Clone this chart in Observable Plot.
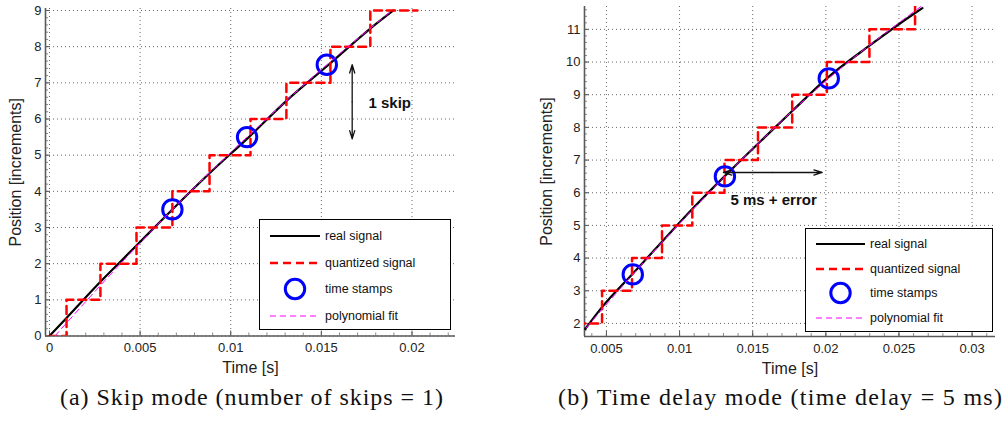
<!DOCTYPE html>
<html>
<head>
<meta charset="utf-8">
<script src="https://cdn.jsdelivr.net/npm/d3@7"></script>
<script src="https://cdn.jsdelivr.net/npm/@observablehq/plot@0.6"></script>
<style>
  html, body { margin: 0; padding: 0; background: #fff; }
  #fig { position: relative; width: 1007px; height: 428px; overflow: hidden;
         font-family: "Liberation Sans", Arial, Helvetica, sans-serif; }
  .panel { position: absolute; top: 0; }
  .legend { position: absolute; box-sizing: border-box; border: 1px solid #000; background: #fff; }
  .legend .row { position: absolute; left: 0; right: 0; height: 20px; }
  .legend svg { position: absolute; left: 0; top: 0; overflow: visible; }
  .legend span { position: absolute; font-size: 12.5px; color: #111; line-height: 20px; white-space: nowrap; }
  #captions { position: absolute; left: 0; top: 0; }
</style>
</head>
<body>
<div id="fig"></div>
<script>
// ---------- (a) Skip mode ----------
const skipRealT   = [0, 0.00094, 0.00281, 0.0048, 0.00678, 0.00883, 0.0110, 0.01307, 0.0154, 0.0177, 0.01897];
const skipRealP   = [0, 0.5, 1.5, 2.5, 3.5, 4.5, 5.5, 6.5, 7.5, 8.5, 9];
const skipQuantT  = [0, 0.00094, 0.00281, 0.0048, 0.00678, 0.00883, 0.01109, 0.01307, 0.0155, 0.0177, 0.0203];
const skipQuantP  = [0, 1, 2, 3, 4, 5, 6, 7, 8, 9, 9];
const skipStampT  = [0.00678, 0.0109, 0.0153];
const skipStampP  = [3.5, 5.5, 7.5];
const skipFitT    = [0.0003, 0.0034, 0.00678, 0.0109, 0.0153, 0.0189];
const skipFitP    = [0, 1.72, 3.5, 5.5, 7.5, 9];
const skipXTicks  = [0, 0.005, 0.01, 0.015, 0.02];
const skipYTicks  = [0, 1, 2, 3, 4, 5, 6, 7, 8, 9];
const skipXDomain = [-0.00022, 0.0224];
const skipYDomain = [0, 9.055];
const skipArrowT  = 0.0167;
const skipArrowP  = [5.45, 7.5];
const skipNote    = {t: 0.0176, p: 6.43, text: "1 skip"};

// ---------- (b) Time delay mode ----------
const delayRealT  = [0.00355, 0.0047, 0.00675, 0.0088, 0.01087, 0.01307, 0.01536, 0.0177, 0.02007, 0.02298, 0.0261, 0.0266];
const delayRealP  = [1.83, 2.5, 3.5, 4.5, 5.5, 6.5, 7.5, 8.5, 9.5, 10.5, 11.5, 11.65];
const delayQuantT = [0.0030, 0.0047, 0.00675, 0.0088, 0.01087, 0.01307, 0.01536, 0.0177, 0.02007, 0.02298, 0.0261];
const delayQuantP = [2, 3, 4, 5, 6, 7, 8, 9, 10, 11, 12];
const delayStampT = [0.0068, 0.0131, 0.0202];
const delayStampP = [3.5, 6.5, 9.5];
const delayFitT   = [0.0036, 0.0068, 0.0131, 0.0202, 0.0265];
const delayFitP   = [1.86, 3.5, 6.5, 9.5, 11.7];
const delayXTicks = [0.005, 0.01, 0.015, 0.02, 0.025, 0.03];
const delayYTicks = [2, 3, 4, 5, 6, 7, 8, 9, 10, 11];
const delayXDomain = [0.0035, 0.0316];
const delayYDomain = [1.6, 11.7];
const delayArrowP = 6.62;
const delayArrowT = [0.0130, 0.01975];
const delayNote   = {t: 0.01348, p: 5.76, text: "5 ms + error"};

// ---------- shared labels and styles ----------
const xLabel = "Time [s]";
const yLabel = "Position [increments]";
const legendNames = ["real signal", "quantized signal", "time stamps", "polynomial fit"];
const captions = ["(a) Skip mode (number of skips = 1)", "(b) Time delay mode (time delay = 5 ms)"];

const styleReal  = {stroke: "#000", strokeWidth: 2.2};
const styleQuant = {stroke: "#ff0000", strokeWidth: 2.5, strokeDasharray: "8,5"};
const styleStamp = {stroke: "#0000ff", strokeWidth: 3, r: 9.7};
const styleFit   = {stroke: "#ff00ff", strokeWidth: 1, strokeDasharray: "6,4"};
const gridStyle  = {stroke: "#000", strokeOpacity: 0.6, strokeDasharray: "1,3", strokeWidth: 1};
const axisColor  = "#5a5a5a";

const rows = (t, p) => t.map((d, i) => ({t: d, p: p[i]}));
const fmt = d => String(+d.toFixed(4));

function minorTicks(domain, step) {
  const out = [];
  const k0 = Math.ceil(domain[0] / step - 1e-9), k1 = Math.floor(domain[1] / step + 1e-9);
  for (let k = k0; k <= k1; k++) out.push(+(k * step).toFixed(6));
  return out;
}

function panel(cfg) {
  const plotW = cfg.width - cfg.marginLeft - cfg.marginRight;
  const plotH = cfg.height - cfg.marginTop - cfg.marginBottom;
  const marks = [
    Plot.gridX(cfg.xTicks, {...gridStyle}),
    Plot.gridY(cfg.yTicks, {...gridStyle}),
    // inward minor and major tick marks
    Plot.tickY(minorTicks(cfg.yDomain, 0.2), {y: d => d, stroke: axisColor, strokeOpacity: 0.7, insetRight: plotW - 3}),
    Plot.tickX(minorTicks(cfg.xDomain, 0.001), {x: d => d, stroke: axisColor, strokeOpacity: 0.7, insetTop: plotH - 3}),
    Plot.tickY(cfg.yTicks, {y: d => d, stroke: axisColor, insetRight: plotW - 5}),
    Plot.tickX(cfg.xTicks, {x: d => d, stroke: axisColor, insetTop: plotH - 5}),
    Plot.axisX(cfg.xTicks, {tickSize: 0, tickPadding: 7, tickFormat: fmt, fontSize: 13,
      label: xLabel, labelAnchor: "center", labelOffset: cfg.xLabelOffset, labelArrow: "none"}),
    Plot.axisY(cfg.yTicks, {tickSize: 0, tickPadding: 4, tickFormat: fmt, fontSize: 13,
      label: yLabel, labelAnchor: "center", labelOffset: cfg.yLabelOffset, labelArrow: "none"}),
    Plot.ruleX([cfg.xDomain[0]], {stroke: axisColor, strokeWidth: 1.6}),
    Plot.ruleY([cfg.yDomain[0]], {stroke: axisColor, strokeWidth: 1.6}),
    Plot.line(rows(cfg.realT, cfg.realP), {x: "t", y: "p", curve: "monotone-x", clip: true, ...styleReal}),
    Plot.line(rows(cfg.quantT, cfg.quantP), {x: "t", y: "p", curve: "step-after", clip: true, ...styleQuant}),
    Plot.dot(rows(cfg.stampT, cfg.stampP), {x: "t", y: "p", fill: "none", clip: true, ...styleStamp}),
    Plot.line(rows(cfg.fitT, cfg.fitP), {x: "t", y: "p", curve: "monotone-x", clip: true, ...styleFit}),
    ...cfg.annotations,
    Plot.text([cfg.note], {x: "t", y: "p", text: "text", textAnchor: "start", fontSize: 15,
      fontWeight: "bold", fill: "#111"})
  ];
  const svg = Plot.plot({
    width: cfg.width, height: cfg.height,
    marginLeft: cfg.marginLeft, marginRight: cfg.marginRight,
    marginTop: cfg.marginTop, marginBottom: cfg.marginBottom,
    x: {domain: cfg.xDomain},
    y: {domain: cfg.yDomain},
    style: {fontFamily: '"Liberation Sans", Arial, sans-serif', fontSize: "13px", color: "#222",
            background: "transparent", overflow: "visible"},
    marks
  });
  svg.classList.add("panel");
  svg.style.left = cfg.left + "px";
  d3.select(svg).selectAll("[aria-label='x-axis label'] text, [aria-label='y-axis label'] text")
    .style("font-size", "16px");
  return svg;
}

const arrowStyle = {stroke: "#111", strokeWidth: 1.3, headLength: 10, headAngle: 34};

const fig = document.getElementById("fig");

fig.appendChild(panel({
  left: 0, width: 468, height: 380, marginLeft: 45, marginRight: 13, marginTop: 8, marginBottom: 44.5,
  xDomain: skipXDomain, yDomain: skipYDomain, xTicks: skipXTicks, yTicks: skipYTicks,
  xLabelOffset: 37, yLabelOffset: 36,
  realT: skipRealT, realP: skipRealP, quantT: skipQuantT, quantP: skipQuantP,
  stampT: skipStampT, stampP: skipStampP, fitT: skipFitT, fitP: skipFitP,
  note: skipNote,
  annotations: [
    Plot.arrow([0, 1], {x1: () => skipArrowT, x2: () => skipArrowT,
      y1: () => (skipArrowP[0] + skipArrowP[1]) / 2, y2: (d) => skipArrowP[d], ...arrowStyle})
  ]
}));

fig.appendChild(panel({
  left: 520, width: 487, height: 380, marginLeft: 64, marginRight: 12, marginTop: 6, marginBottom: 44,
  xDomain: delayXDomain, yDomain: delayYDomain, xTicks: delayXTicks, yTicks: delayYTicks,
  xLabelOffset: 37, yLabelOffset: 44,
  realT: delayRealT, realP: delayRealP, quantT: delayQuantT, quantP: delayQuantP,
  stampT: delayStampT, stampP: delayStampP, fitT: delayFitT, fitP: delayFitP,
  note: delayNote,
  annotations: [
    Plot.arrow([0, 1], {y1: () => delayArrowP, y2: () => delayArrowP,
      x1: () => (delayArrowT[0] + delayArrowT[1]) / 2, x2: (d) => delayArrowT[d], ...arrowStyle})
  ]
}));

// ---------- legends ----------
function legend(box) {
  const div = document.createElement("div");
  div.className = "legend";
  Object.assign(div.style, {left: box.left + "px", top: box.top + "px",
    width: box.width + "px", height: box.height + "px"});
  legendNames.forEach((name, i) => {
    const row = document.createElement("div");
    row.className = "row";
    row.style.top = (box.firstRow + i * box.rowStep - 10) + "px";
    const s = d3.create("svg").attr("width", box.width).attr("height", 20);
    const x0 = box.swatchX, x1 = box.swatchX + box.swatchW;
    if (i === 0) s.append("line").attr("x1", x0).attr("x2", x1).attr("y1", 10).attr("y2", 10)
      .attr("stroke", styleReal.stroke).attr("stroke-width", styleReal.strokeWidth);
    if (i === 1) s.append("line").attr("x1", x0).attr("x2", x1).attr("y1", 10).attr("y2", 10)
      .attr("stroke", styleQuant.stroke).attr("stroke-width", styleQuant.strokeWidth)
      .attr("stroke-dasharray", styleQuant.strokeDasharray);
    if (i === 2) s.append("circle").attr("cx", (x0 + x1) / 2).attr("cy", 10).attr("r", styleStamp.r)
      .attr("fill", "none").attr("stroke", styleStamp.stroke).attr("stroke-width", styleStamp.strokeWidth);
    if (i === 3) s.append("line").attr("x1", x0).attr("x2", x1).attr("y1", 10).attr("y2", 10)
      .attr("stroke", styleFit.stroke).attr("stroke-width", styleFit.strokeWidth)
      .attr("stroke-dasharray", styleFit.strokeDasharray);
    row.appendChild(s.node());
    const span = document.createElement("span");
    span.textContent = name;
    span.style.left = box.textX + "px";
    span.style.top = "0px";
    row.appendChild(span);
    div.appendChild(row);
  });
  fig.appendChild(div);
}
legend({left: 259, top: 219, width: 192, height: 111, firstRow: 16, rowStep: 26.7, swatchX: 10, swatchW: 50, textX: 65});
legend({left: 805, top: 228, width: 188, height: 104, firstRow: 15, rowStep: 24.6, swatchX: 10, swatchW: 49, textX: 64});

// ---------- captions ----------
const cap = d3.create("svg").attr("id", "captions").attr("width", 1007).attr("height", 428);
[[251.5, 383], [780, 444]].forEach(([cx, len], i) => {
  cap.append("text").attr("x", cx).attr("y", 405).attr("text-anchor", "middle")
    .attr("font-family", '"Liberation Serif", "DejaVu Serif", serif').attr("font-size", 24)
    .attr("fill", "#111").attr("textLength", len).attr("lengthAdjust", "spacing")
    .text(captions[i]);
});
fig.appendChild(cap.node());
</script>
</body>
</html>
